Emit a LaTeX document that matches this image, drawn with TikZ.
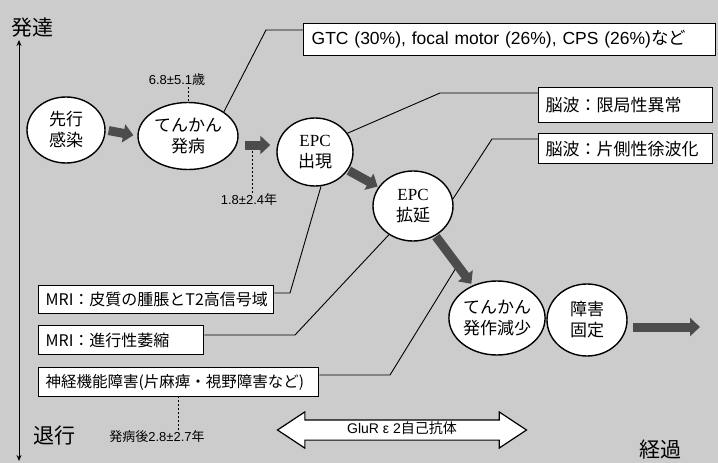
\documentclass[tikz,border=0pt]{standalone}
\usepackage{fontspec}
\setmainfont{Liberation Sans}
\newfontfamily\jp{Noto Sans CJK JP}
\newfontfamily\ser{Liberation Serif}
\usetikzlibrary{shapes.geometric,shapes.arrows,arrows.meta,calc}
\begin{document}
\begin{tikzpicture}[x=1pt,y=-1pt,
  ell/.style={ellipse, draw=black, line width=1.4pt, fill=white, inner sep=0pt, align=center, font=\jp\fontsize{17}{21}\selectfont},
  lbox/.style={rectangle, draw=black, line width=1.3pt, fill=white, anchor=north west, align=left, inner xsep=7pt, inner ysep=0pt},
  fat/.style={line width=9pt, draw=black!70, -{Triangle[length=10pt,width=18pt]}},
  conn/.style={line width=0.9pt, draw=black},
  dsh/.style={line width=0.8pt, dash pattern=on 2pt off 2pt},
  small/.style={font=\fontsize{13}{15}\selectfont, inner sep=1pt},
  big/.style={font=\jp\fontsize{21}{24}\selectfont, inner sep=0pt},
]
\fill[black!20] (0,0) rectangle (718,463);
\useasboundingbox (0,0) rectangle (718,463);

% axis
\coordinate (ax1) at (19,40);
\coordinate (ax2) at (19,461);
\draw[line width=1pt, {Stealth[length=6pt,width=5pt]}-{Stealth[length=6pt,width=5pt]}] (ax1) -- (ax2);
\node[big] (up) at (33,28) {発達};
\node[big] (down) at (54,436) {退行};
\node[big] (time) at (660,450) {経過};

% ellipses
\node[ell, minimum width=78pt, minimum height=66pt] (a) at (66,130) {先行\\感染};
\node[ell, minimum width=100pt, minimum height=67pt] (b) at (188,136) {てんかん\\発病};
\node[ell, minimum width=76pt, minimum height=68pt] (c) at (315,152) {{\ser EPC}\\出現};
\node[ell, minimum width=80pt, minimum height=70pt] (d) at (413,206) {{\ser EPC}\\拡延};
\node[ell, minimum width=90pt, minimum height=74pt] (e) at (497,318) {てんかん\\発作減少};
\node[ell, minimum width=80pt, minimum height=72pt] (f) at (587,320) {障害\\固定};

% boxes
\node[lbox, minimum height=32pt, text width=396pt, inner xsep=8pt, font=\fontsize{17.5}{20}\selectfont] (g) at (303,23) {GTC (30\%), focal motor (26\%), CPS (26\%){\jp など}};
\node[lbox, minimum height=35pt, text width=160pt, font=\jp\fontsize{17}{20}\selectfont] (h) at (538,87) {脳波：限局性異常};
\node[lbox, minimum height=30pt, text width=160pt, font=\jp\fontsize{17}{20}\selectfont] (i) at (538,133) {脳波：片側性徐波化};
\node[lbox, minimum height=28pt, text width=221pt, font=\jp\fontsize{16}{19}\selectfont] (j) at (38,285) {MRI：皮質の腫脹とT2高信号域};
\node[lbox, minimum height=29pt, text width=151pt, font=\jp\fontsize{16}{19}\selectfont] (k) at (38,325) {MRI：進行性萎縮};
\node[lbox, minimum height=29pt, text width=266pt, font=\jp\fontsize{15.5}{19}\selectfont] (l) at (38,367) {神経機能障害(片麻痺・視野障害など)};

% connectors
\draw[conn] ($(g.north west)+(0,7)$) -- (266,30) -- (b.north east);
\draw[conn] ($(h.north west)+(0,6)$) -- (440,93) -- (c.30);
\draw[conn] ($(i.north west)+(0,6)$) -- (492,139) -- (d.10);
\draw[conn] ($(j.north east)+(0,8)$) -- (290,293) -- (c.-80);
\draw[conn] ($(k.north east)+(0,10)$) -- (295,335) -- (d.230);
\coordinate (nend) at (459,263);
\draw[conn] ($(l.north east)+(0,8)$) -- (390,375) -- (nend);

% fat arrows
\draw[fat, shorten <=3pt, shorten >=4pt] (a.east) -- (b.west);
\draw[fat, shorten <=6pt, shorten >=6pt] ($(b.east)+(0,9)$) -- ($(c.west)+(0,-7)$);
\draw[fat, shorten <=1pt, shorten >=1pt] (c) -- (d);
\draw[fat, shorten <=1pt, shorten >=2pt] (d) -- (e);
\coordinate (out) at (700,327);
\draw[fat, shorten <=5pt] ($(f.east)+(0,7)$) -- (out);

% small labels with dashed leaders
\node[small] (m) at (177,80) {6.8±5.1{\jp 歳}};
\draw[dsh] (m.south -| b.north) -- (b.north);
\coordinate (a2) at (252,150);
\node[small] (n) at (249,200) {1.8±2.4{\jp 年}};
\draw[dsh] (n.north -| a2) -- (a2);
\node[small] (o) at (157,437) {{\jp 発病後}2.8±2.7{\jp 年}};
\draw[dsh] (o.north -| l.south) -- (l.south);

% antibody double arrow
\node[double arrow, draw=black, line width=1.2pt, fill=white, double arrow head extend=8pt, double arrow tip angle=67, minimum height=249pt, inner ysep=3pt, inner xsep=0pt, font=\fontsize{14}{16}\selectfont, text height=10pt, text depth=3pt] (glu) at (402,430) {GluR ε 2{\jp 自己抗体}};
\end{tikzpicture}
\end{document}
